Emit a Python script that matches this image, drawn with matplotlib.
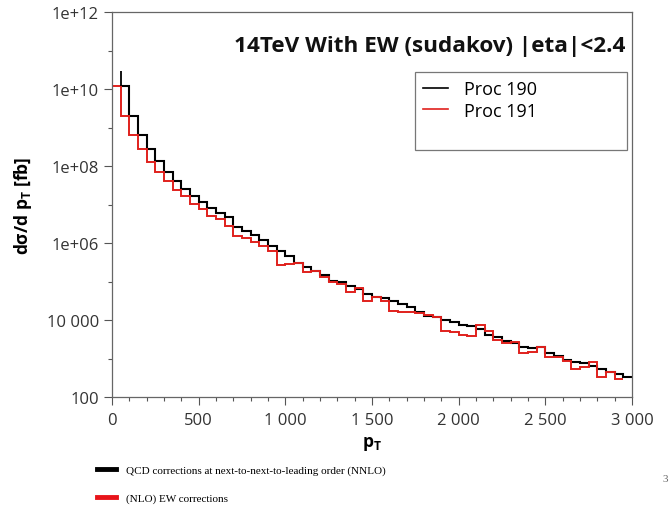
import numpy as np
import matplotlib
matplotlib.use("Agg")
import matplotlib.pyplot as plt
from matplotlib.lines import Line2D
from matplotlib.ticker import FixedLocator, FuncFormatter, MultipleLocator

plt.rcParams['font.family'] = ['Open Sans', 'DejaVu Sans']
plt.rcParams['mathtext.fontset'] = 'custom'
plt.rcParams['mathtext.rm'] = 'Open Sans'
plt.rcParams['mathtext.bf'] = 'Open Sans:bold'

# bin edges in pT, 50 wide
bin_width = 50
pt_max = 3000

# log10(dsigma/dpT [fb]) per bin, Proc 190 starts at pT=50
proc190_log = [10.09, 9.31, 8.81, 8.44, 8.14, 7.84, 7.62, 7.40, 7.23, 7.06,
               6.90, 6.78, 6.68, 6.42, 6.31, 6.21, 6.08, 5.92, 5.79, 5.67,
               5.48, 5.37, 5.28, 5.17, 5.02, 4.98, 4.89, 4.81, 4.68, 4.60,
               4.58, 4.49, 4.42, 4.33, 4.21, 4.11, 4.07, 4.00, 3.94, 3.87,
               3.84, 3.77, 3.62, 3.55, 3.46, 3.39, 3.30, 3.27, 3.29, 3.14,
               3.06, 2.97, 2.90, 2.88, 2.81, 2.73, 2.66, 2.60, 2.53]
proc190_spike_log = 10.48

# Proc 191 starts at pT=0
proc191_log = [10.07, 9.31, 8.81, 8.44, 8.11, 7.84, 7.62, 7.38, 7.21, 7.01,
               6.88, 6.71, 6.62, 6.45, 6.19, 6.13, 6.03, 5.93, 5.79, 5.43,
               5.45, 5.48, 5.24, 5.28, 5.11, 4.98, 4.94, 4.72, 4.82, 4.50,
               4.60, 4.50, 4.24, 4.21, 4.20, 4.17, 4.14, 4.07, 3.72, 3.68,
               3.62, 3.59, 3.88, 3.72, 3.48, 3.40, 3.42, 3.14, 3.16, 3.29,
               3.04, 3.03, 2.94, 2.73, 2.77, 2.92, 2.51, 2.64, 2.48]

ytick_vals = [1e2, 1e4, 1e6, 1e8, 1e10, 1e12]
ytick_labels = ['100', '10 000', '1e+06', '1e+08', '1e+10', '1e+12']

edges = np.arange(0, pt_max + 1, bin_width)
proc190 = 10 ** np.array(proc190_log)
proc191 = 10 ** np.array(proc191_log)

fig = plt.figure(figsize=(6.69, 5.10), dpi=100)
ax = fig.add_axes([0.1674, 0.2196, 0.7773, 0.7549])

ax.stairs(proc190, edges[1:], baseline=None, color='black', lw=1.5, label='Proc 190')
ax.vlines(edges[1], proc190[0], 10 ** proc190_spike_log, color='black', lw=1.3)
ax.stairs(proc191, edges[:-1], baseline=None, color='#e0201c', lw=1.4, label='Proc 191')

ax.set_yscale('log')
ax.set_ylim(1e2, 1e12)
ax.set_xlim(0, pt_max)

ax.yaxis.set_major_locator(FixedLocator(ytick_vals))
ax.yaxis.set_major_formatter(FuncFormatter(lambda v, p: ytick_labels[ytick_vals.index(v)] if v in ytick_vals else ''))
ax.yaxis.set_minor_locator(FixedLocator([1e3, 1e5, 1e7, 1e9, 1e11]))
ax.yaxis.set_minor_formatter(FuncFormatter(lambda v, p: ''))

ax.xaxis.set_major_locator(MultipleLocator(500))
ax.xaxis.set_minor_locator(MultipleLocator(100))
ax.xaxis.set_major_formatter(FuncFormatter(lambda v, p: '{:,}'.format(int(v)).replace(',', ' ')))

ax.tick_params(which='major', length=6, width=0.8, color='#555555', labelsize=12, labelcolor='#333333')
ax.tick_params(axis='x', which='major', pad=5)
ax.tick_params(which='minor', length=3, width=0.8, color='#555555')
for s in ax.spines.values():
    s.set_color('#666666')
    s.set_linewidth(0.9)

ax.set_ylabel(r'd$\mathbf{\sigma}$/d p$_{\mathbf{T}}$ [fb]', fontweight='bold', fontsize=12.5, labelpad=9)
ax.set_xlabel(r'p$_{\mathbf{T}}$', fontweight='bold', fontsize=12.5, labelpad=4)

ax.text(0.987, 0.912, '14TeV With EW (sudakov) |eta|<2.4', transform=ax.transAxes,
        ha='right', va='center', fontweight='bold', fontsize=16.2, color='#111111')

handles = [Line2D([], [], color='black', lw=1.2), Line2D([], [], color='#e0201c', lw=1.2),
           Line2D([], [], color='none')]
labels = ['Proc 190', 'Proc 191', ' ']
leg = ax.legend(handles, labels, loc='upper left', bbox_to_anchor=(0.583, 0.696, 0.408, 0.148),
                mode='expand', borderaxespad=0, fontsize=13, handlelength=1.35,
                handletextpad=0.9, labelspacing=0.2, borderpad=0.45,
                fancybox=False, frameon=True)
leg.get_frame().set_edgecolor('#555555')
leg.get_frame().set_linewidth(0.9)

# caption below the plot
cap_handles = [Line2D([], [], color='black', lw=3.5), Line2D([], [], color='#e8141a', lw=3.5)]
cap_labels = ['QCD corrections at next-to-next-to-leading order (NNLO)', '(NLO) EW corrections']
fig.legend(cap_handles, cap_labels, loc='upper left', bbox_to_anchor=(0.13, 0.105),
           frameon=False, prop={'family': 'Liberation Serif', 'size': 8},
           handlelength=1.7, handletextpad=0.9, labelspacing=1.6)

fig.text(0.999, 0.055, '3', fontsize=8, color='#666666', family='Liberation Serif', ha='right')

fig.savefig('out.png', dpi=100)
